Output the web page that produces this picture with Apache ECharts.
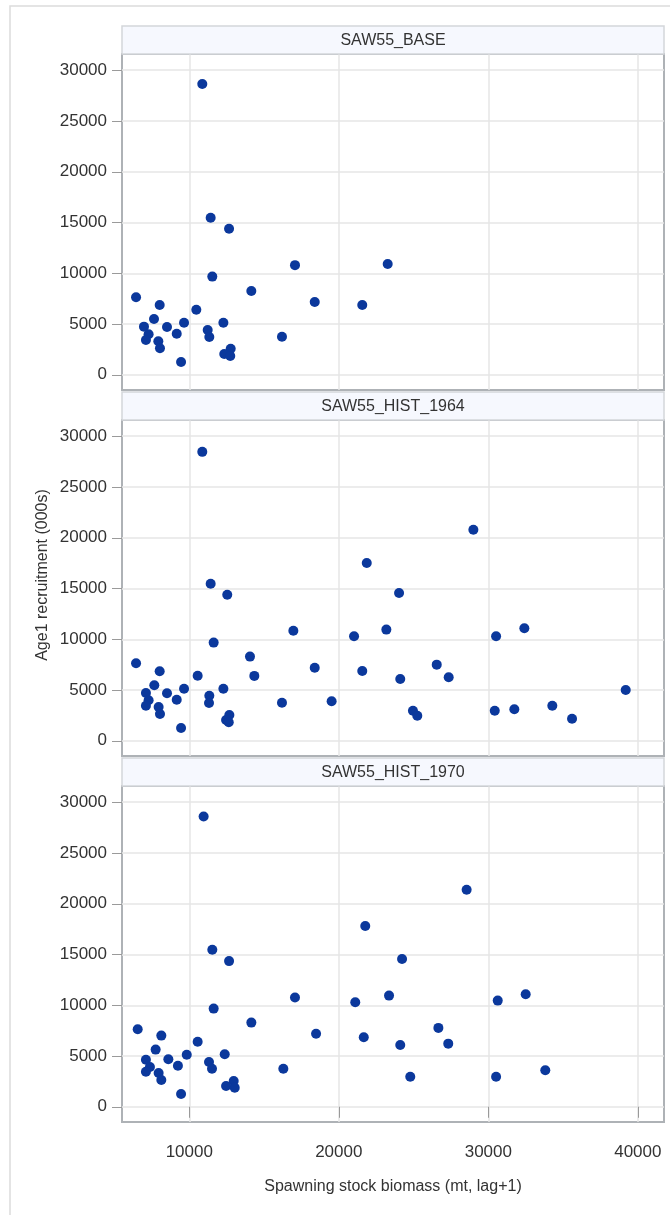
<!DOCTYPE html>
<html>
<head>
<meta charset="utf-8">
<script src="https://cdn.jsdelivr.net/npm/echarts@6/dist/echarts.min.js"></script>
<style>
html,body{margin:0;padding:0;background:#fff;}
#chart{width:670px;height:1215px;}
</style>
</head>
<body>
<div id="chart"></div>
<script>
// ---- Data ----
const panelTitles = ['SAW55_BASE', 'SAW55_HIST_1964', 'SAW55_HIST_1970'];
const xTickValues = [10000, 20000, 30000, 40000];
const yTickValues = [0, 5000, 10000, 15000, 20000, 25000, 30000];
const xAxisTitle = 'Spawning stock biomass (mt, lag+1)';
const yAxisTitle = 'Age1 recruitment (000s)';

const baseSSB = [10870, 11430, 12660, 17070, 23270, 11540, 14150, 6440, 8020, 18390,
  21570, 10470, 7640, 9650, 12280, 6970, 8510, 9160, 7280, 11230,
  11340, 7100, 7930, 16200, 8040, 12770, 12340, 12740, 9450];
const baseRec = [28650, 15460, 14380, 10800, 10920, 9670, 8260, 7640, 6880, 7170,
  6880, 6410, 5500, 5130, 5130, 4740, 4710, 4050, 3990, 4410,
  3720, 3420, 3300, 3750, 2610, 2570, 2040, 1850, 1250];

const hist1964SSB = [10870, 11430, 12540, 16960, 11630, 14060, 6440, 8020, 18390, 10560,
  14350, 7660, 9650, 12280, 7100, 8510, 9160, 7280, 11340, 11320,
  7100, 7950, 16200, 19520, 8040, 12680, 12460, 12640, 9450, 29000,
  21870, 24030, 21020, 23180, 30520, 32410, 21570, 26550, 27350, 24110,
  39190, 24960, 25250, 30430, 31740, 34280, 35600];
const hist1964Rec = [28460, 15460, 14380, 10830, 9670, 8290, 7640, 6850, 7200, 6410,
  6390, 5470, 5130, 5130, 4710, 4680, 4050, 3990, 4440, 3720,
  3450, 3330, 3750, 3890, 2640, 2540, 2040, 1820, 1250, 20790,
  17510, 14550, 10300, 10950, 10300, 11090, 6880, 7500, 6260, 6090,
  5000, 2960, 2470, 2960, 3100, 3450, 2170];

const hist1970SSB = [10960, 11540, 12660, 17070, 11630, 14150, 6550, 8130, 18480, 10560,
  7750, 9830, 12370, 7100, 8600, 9240, 7370, 11320, 11520, 7100,
  7950, 16290, 8130, 12970, 12460, 13040, 9450, 28550, 21770, 24230,
  21100, 23360, 30630, 32500, 21670, 26660, 27320, 24110, 24780, 30520,
  33810];
const hist1970Rec = [28590, 15460, 14350, 10760, 9670, 8290, 7640, 7010, 7200, 6410,
  5630, 5130, 5170, 4640, 4680, 4050, 3920, 4410, 3750, 3450,
  3330, 3750, 2640, 2540, 2040, 1880, 1250, 21380, 17800, 14550,
  10300, 10950, 10460, 11090, 6850, 7770, 6220, 6090, 2960, 2960,
  3590];

// ---- Layout ----
const FONT = 'Liberation Sans, Arial, sans-serif';
const TEXT = '#333333';
const plotLeft = 122, plotWidth = 542;
const headerH = 28;
const gridTops = [54, 420, 786];
const gridH = 336;
const xMin = 5500, xMax = 41750;
const yMin = -1500, yMax = 31600;
const markerColor = '#0b389c';
const plain = v => String(v);

const panels = [
  {x: baseSSB, y: baseRec},
  {x: hist1964SSB, y: hist1964Rec},
  {x: hist1970SSB, y: hist1970Rec}
];

const grids = [], xAxes = [], yAxes = [], series = [], graphics = [];

panels.forEach((p, i) => {
  const isLast = i === panels.length - 1;
  grids.push({
    left: plotLeft, top: gridTops[i], width: plotWidth, height: gridH,
    show: true, borderColor: '#aeb2b6', borderWidth: 2, backgroundColor: '#ffffff'
  });
  xAxes.push({
    type: 'value', gridIndex: i, min: xMin, max: xMax, splitNumber: 4,
    axisLine: {show: false},
    axisTick: {show: isLast, length: 11, customValues: xTickValues,
      lineStyle: {color: '#9a9a9a', width: 1}},
    axisLabel: {show: isLast, customValues: xTickValues, margin: 22, formatter: plain,
      color: TEXT, fontSize: 17, fontFamily: FONT},
    splitLine: {show: true, lineStyle: {color: '#e6e6e6', width: 1.5}}
  });
  yAxes.push({
    type: 'value', gridIndex: i, min: yMin, max: yMax, splitNumber: 6,
    axisLine: {show: false},
    axisTick: {show: true, length: 10, customValues: yTickValues,
      lineStyle: {color: '#9a9a9a', width: 1}},
    axisLabel: {show: true, customValues: yTickValues, margin: 15, formatter: plain,
      color: TEXT, fontSize: 17, fontFamily: FONT},
    splitLine: {show: true, lineStyle: {color: '#e6e6e6', width: 1.5}}
  });
  series.push({
    type: 'scatter', xAxisIndex: i, yAxisIndex: i,
    symbol: 'circle', symbolSize: 10,
    itemStyle: {color: markerColor, opacity: 1},
    data: p.x.map((v, k) => [v, p.y[k]]),
    silent: true, animation: false
  });
  const hTop = gridTops[i] - headerH;
  graphics.push({
    type: 'rect', z: 5,
    shape: {x: plotLeft, y: hTop, width: plotWidth, height: headerH},
    style: {fill: '#f6f8fe', stroke: '#d3d6da', lineWidth: 1.5}
  });
  graphics.push({
    type: 'text', z: 6, x: plotLeft + plotWidth / 2, y: hTop + headerH / 2 + 1,
    style: {text: panelTitles[i], fill: TEXT, font: '16px ' + FONT,
      textAlign: 'center', textVerticalAlign: 'middle'}
  });
});

// outer light frame
graphics.unshift({
  type: 'rect', z: 0,
  shape: {x: 10, y: 6, width: 700, height: 1260},
  style: {fill: 'none', stroke: '#dcdcdc', lineWidth: 1.5}
});
// axis titles
graphics.push({
  type: 'text', x: 43, y: 575, rotation: Math.PI / 2,
  style: {text: yAxisTitle, fill: TEXT, font: '16px ' + FONT,
    textAlign: 'center', textVerticalAlign: 'middle'}
});
graphics.push({
  type: 'text', x: plotLeft + plotWidth / 2, y: 1187,
  style: {text: xAxisTitle, fill: TEXT, font: '16px ' + FONT,
    textAlign: 'center', textVerticalAlign: 'middle'}
});

const chart = echarts.init(document.getElementById('chart'), null, {renderer: 'canvas'});
chart.setOption({
  animation: false,
  backgroundColor: '#ffffff',
  grid: grids,
  xAxis: xAxes,
  yAxis: yAxes,
  series: series,
  graphic: graphics
});
</script>
</body>
</html>
